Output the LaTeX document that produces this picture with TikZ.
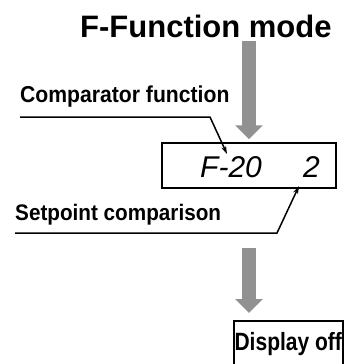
\documentclass[tikz,border=0pt]{standalone}
\usepackage{fontspec}
\setmainfont{Liberation Sans}
\newfontfamily\narrowfont[FakeStretch=0.92]{Liberation Sans}
\newfontfamily\offfont[FakeStretch=0.84]{Liberation Sans}
\usetikzlibrary{arrows.meta, positioning, calc}
\definecolor{hatchgray}{RGB}{145,145,145}

\begin{document}
\begin{tikzpicture}[
    x=1pt, y=-1pt,
    label/.style={anchor=base west, inner sep=0pt, font=\narrowfont\bfseries\fontsize{23}{26}\selectfont},
    digit/.style={anchor=base west, inner sep=0pt, font=\itshape\fontsize{30}{34}\selectfont},
    lcd/.style={draw, line width=1.5pt, minimum width=174pt, minimum height=45pt, inner sep=0pt},
    offbox/.style={draw, line width=1.5pt, minimum width=109pt, minimum height=46pt, inner sep=0pt, font=\offfont\bfseries\fontsize{25}{29}\selectfont},
    pointer/.style={line width=1.5pt, -{Stealth[length=8pt, width=5pt]}},
    blockarrow/.style={hatchgray, line width=14pt, -{Triangle[length=14pt 0 0, width=27pt 0 0]}}
]
\useasboundingbox (0,0) rectangle (361,364);

% Title
\node[anchor=base west, inner sep=0pt, font=\bfseries\fontsize{31}{36}\selectfont] (title) at (80,37) {F-Function mode};

% Display with code and value
\node[lcd] (disp) at (249,165.5) {};
\node[digit] (code) at (200,177) {F-20};
\node[digit] (val) at (303,177) {2};

% Labels
\node[label] (cmp) at (20,102) {Comparator function};
\node[label, font=\narrowfont\bfseries\fontsize{22.5}{26}\selectfont] (setp) at (15,220) {Setpoint comparison};

% Display off
\node[offbox, anchor=north west] (off) at (233,320) {Display off};

% Block arrows
\draw[blockarrow, shorten <=3pt, shorten >=3pt] (title.south -| disp.north) -- (disp.north);
\draw[blockarrow, shorten <=59pt, shorten >=7pt] (disp.south) -- (disp.south |- off.north);

% Pointers
\coordinate (cmptip) at (227,154);
\coordinate (setptip) at (299,186);
\draw[pointer] (cmp.base west) ++(0,15) -- ++(190,0) -- (cmptip);
\draw[pointer] (setp.base west) ++(0,13) -- ++(262,0) -- (setptip);

\end{tikzpicture}
\end{document}
